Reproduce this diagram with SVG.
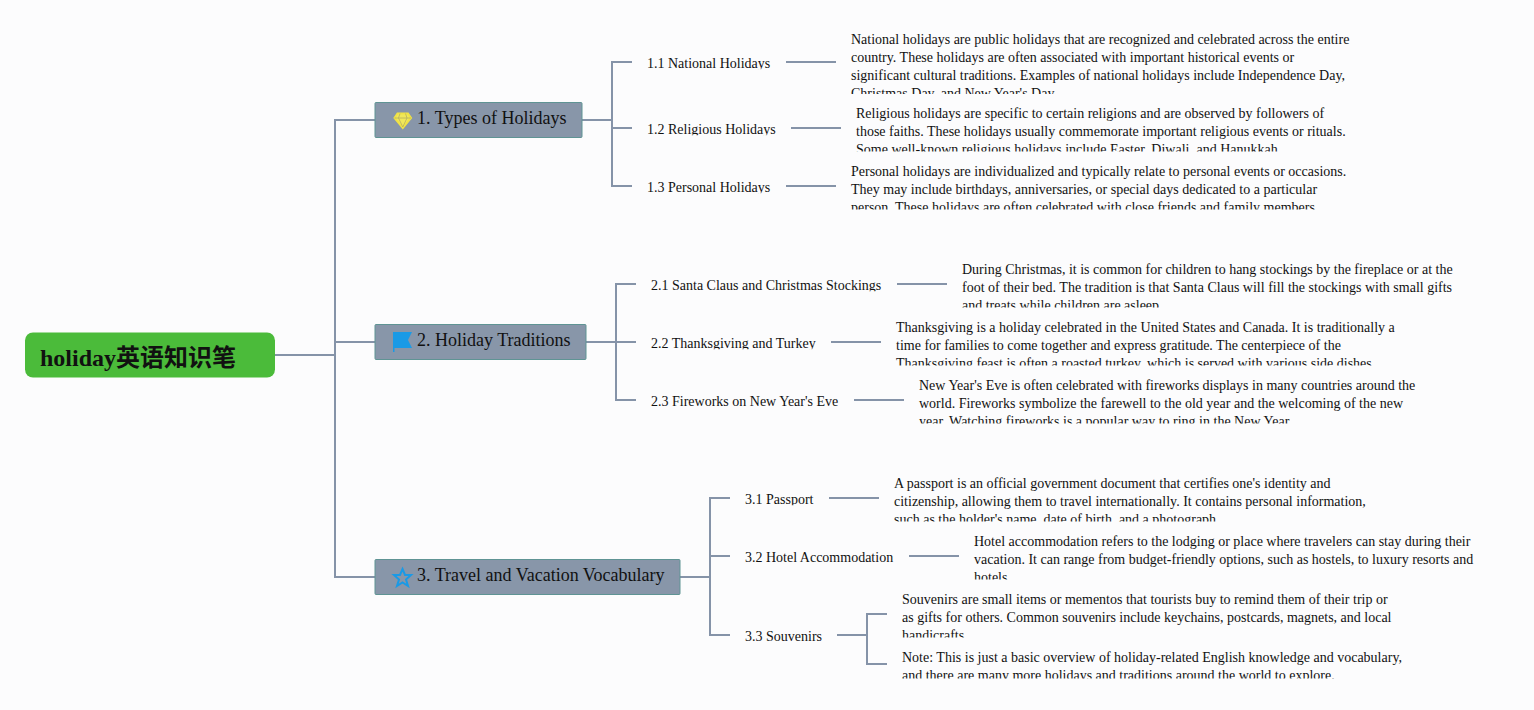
<svg xmlns="http://www.w3.org/2000/svg" width="1534" height="710" viewBox="0 0 1534 710">
<style>
.l{fill:none;stroke:#8593a8;stroke-width:2}
.t{fill:#8896a9;stroke:#5f9494;stroke-width:1}
.h{font:18px "Liberation Serif","Noto Sans CJK SC",serif;fill:#111}
.s{font:14px "Liberation Serif","Noto Sans CJK SC",serif;fill:#111}
.r{font:bold 24px "Liberation Serif","Noto Sans CJK SC",serif;fill:#111}
</style>
<defs>
<clipPath id="c11"><rect x="640" y="50" width="140" height="19.300"/></clipPath>
<clipPath id="c12"><rect x="640" y="116" width="145" height="19.300"/></clipPath>
<clipPath id="c13"><rect x="640" y="174" width="140" height="19.300"/></clipPath>
<clipPath id="c21"><rect x="645" y="272" width="245" height="19.300"/></clipPath>
<clipPath id="c22"><rect x="645" y="330" width="180" height="19.300"/></clipPath>
<clipPath id="c23"><rect x="645" y="388" width="200" height="19.300"/></clipPath>
<clipPath id="c31"><rect x="740" y="486" width="80" height="19.300"/></clipPath>
<clipPath id="c32"><rect x="740" y="544" width="160" height="19.300"/></clipPath>
<clipPath id="c33"><rect x="740" y="623" width="90" height="19.300"/></clipPath>
<clipPath id="d11"><rect x="845" y="30" width="510" height="64"/></clipPath>
<clipPath id="d12"><rect x="850" y="104" width="500" height="47.500"/></clipPath>
<clipPath id="d13"><rect x="845" y="162" width="510" height="47.500"/></clipPath>
<clipPath id="d21"><rect x="955" y="260" width="505" height="47.500"/></clipPath>
<clipPath id="d22"><rect x="890" y="318" width="510" height="47.500"/></clipPath>
<clipPath id="d23"><rect x="913" y="376" width="510" height="47.500"/></clipPath>
<clipPath id="d31"><rect x="888" y="474" width="485" height="47.500"/></clipPath>
<clipPath id="d32"><rect x="968" y="532" width="512" height="47.500"/></clipPath>
<clipPath id="d33"><rect x="896" y="590" width="500" height="47.500"/></clipPath>
<clipPath id="d34"><rect x="896" y="648" width="512" height="30.500"/></clipPath>
</defs>
<rect width="1534" height="710" fill="#fcfcfd"/>
<g id="connectors">
<path class="l" d="M275 355H335M375 120H335V577H375M335 342H375"/>
<path class="l" d="M582 120H612M632 62H612V186H632M612 128H632"/>
<path class="l" d="M586 342H616M636 284H616V400H636M616 342H636"/>
<path class="l" d="M680 577H710M730 498H710V635H730M710 556H730"/>
<path class="l" d="M786 62H836M791 128H841M786 186H836M897 284H947M831 342H881M854 400H904M829 498H879M909 556H959M837 635H867M887 614H867V664H887"/>
</g>
<g id="root"><rect x="25" y="332.500" width="250" height="45" rx="8" fill="#4bbb3a"/><text class="r" x="40" y="366">holiday英语知识笔</text></g>
<g id="n1"><rect class="t" x="375" y="102.500" width="207" height="35" rx="1"/>
<path d="M397.500 113.500H408L411 118L402.800 128L394.500 118Z" fill="#f1e85a" stroke="#f1e344" stroke-width="2"/><path d="M394.500 118H411M400 113.500L398.500 118L402.800 127L407 118L405.500 113.500" fill="none" stroke="#b7b060" stroke-width="0.800"/>
<text class="h" x="417" y="124">1. Types of Holidays</text></g>
<g id="n2"><rect class="t" x="375" y="324.500" width="211" height="35" rx="1"/>
<path d="M393 332H412L408 340L412 348H394.500V352H393Z" fill="#1a9ae6"/>
<text class="h" x="417" y="346">2. Holiday Traditions</text></g>
<g id="n3"><rect class="t" x="375" y="559.500" width="305" height="35" rx="1"/>
<path d="M402.500 569L405 575H411L406 579.500L408 586L402.500 582.500L397 586L399 579.500L394 575H400Z" fill="none" stroke="#1a9ae6" stroke-width="2"/>
<text class="h" x="417" y="581">3. Travel and Vacation Vocabulary</text></g>
<g id="n11"><text class="s" clip-path="url(#c11)" x="647" y="68">1.1 National Holidays</text></g>
<g id="n12"><text class="s" clip-path="url(#c12)" x="647" y="134">1.2 Religious Holidays</text></g>
<g id="n13"><text class="s" clip-path="url(#c13)" x="647" y="192">1.3 Personal Holidays</text></g>
<g id="n21"><text class="s" clip-path="url(#c21)" x="651" y="290">2.1 Santa Claus and Christmas Stockings</text></g>
<g id="n22"><text class="s" clip-path="url(#c22)" x="651" y="348">2.2 Thanksgiving and Turkey</text></g>
<g id="n23"><text class="s" clip-path="url(#c23)" x="651" y="406">2.3 Fireworks on New Year's Eve</text></g>
<g id="n31"><text class="s" clip-path="url(#c31)" x="745" y="504">3.1 Passport</text></g>
<g id="n32"><text class="s" clip-path="url(#c32)" x="745" y="562">3.2 Hotel Accommodation</text></g>
<g id="n33"><text class="s" clip-path="url(#c33)" x="745" y="641">3.3 Souvenirs</text></g>
<g id="d1-1" clip-path="url(#d11)"><text class="s" x="851" y="44">National holidays are public holidays that are recognized and celebrated across the entire</text><text class="s" x="851" y="62">country. These holidays are often associated with important historical events or</text><text class="s" x="851" y="80">significant cultural traditions. Examples of national holidays include Independence Day,</text><text class="s" x="851" y="98">Christmas Day, and New Year's Day.</text></g>
<g id="d1-2" clip-path="url(#d12)"><text class="s" x="856" y="118">Religious holidays are specific to certain religions and are observed by followers of</text><text class="s" x="856" y="136">those faiths. These holidays usually commemorate important religious events or rituals.</text><text class="s" x="856" y="154">Some well-known religious holidays include Easter, Diwali, and Hanukkah.</text></g>
<g id="d1-3" clip-path="url(#d13)"><text class="s" x="851" y="176">Personal holidays are individualized and typically relate to personal events or occasions.</text><text class="s" x="851" y="194">They may include birthdays, anniversaries, or special days dedicated to a particular</text><text class="s" x="851" y="212">person. These holidays are often celebrated with close friends and family members.</text></g>
<g id="d2-1" clip-path="url(#d21)"><text class="s" x="962" y="274">During Christmas, it is common for children to hang stockings by the fireplace or at the</text><text class="s" x="962" y="292">foot of their bed. The tradition is that Santa Claus will fill the stockings with small gifts</text><text class="s" x="962" y="310">and treats while children are asleep.</text></g>
<g id="d2-2" clip-path="url(#d22)"><text class="s" x="896" y="332">Thanksgiving is a holiday celebrated in the United States and Canada. It is traditionally a</text><text class="s" x="896" y="350">time for families to come together and express gratitude. The centerpiece of the</text><text class="s" x="896" y="368">Thanksgiving feast is often a roasted turkey, which is served with various side dishes.</text></g>
<g id="d2-3" clip-path="url(#d23)"><text class="s" x="919" y="390">New Year's Eve is often celebrated with fireworks displays in many countries around the</text><text class="s" x="919" y="408">world. Fireworks symbolize the farewell to the old year and the welcoming of the new</text><text class="s" x="919" y="426">year. Watching fireworks is a popular way to ring in the New Year.</text></g>
<g id="d3-1" clip-path="url(#d31)"><text class="s" x="894" y="488">A passport is an official government document that certifies one's identity and</text><text class="s" x="894" y="506">citizenship, allowing them to travel internationally. It contains personal information,</text><text class="s" x="894" y="524">such as the holder's name, date of birth, and a photograph.</text></g>
<g id="d3-2" clip-path="url(#d32)"><text class="s" x="974" y="546">Hotel accommodation refers to the lodging or place where travelers can stay during their</text><text class="s" x="974" y="564">vacation. It can range from budget-friendly options, such as hostels, to luxury resorts and</text><text class="s" x="974" y="582">hotels.</text></g>
<g id="d3-3" clip-path="url(#d33)"><text class="s" x="902" y="604">Souvenirs are small items or mementos that tourists buy to remind them of their trip or</text><text class="s" x="902" y="622">as gifts for others. Common souvenirs include keychains, postcards, magnets, and local</text><text class="s" x="902" y="640">handicrafts.</text></g>
<g id="d3-4" clip-path="url(#d34)"><text class="s" x="902" y="662">Note: This is just a basic overview of holiday-related English knowledge and vocabulary,</text><text class="s" x="902" y="680">and there are many more holidays and traditions around the world to explore.</text></g>
</svg>
